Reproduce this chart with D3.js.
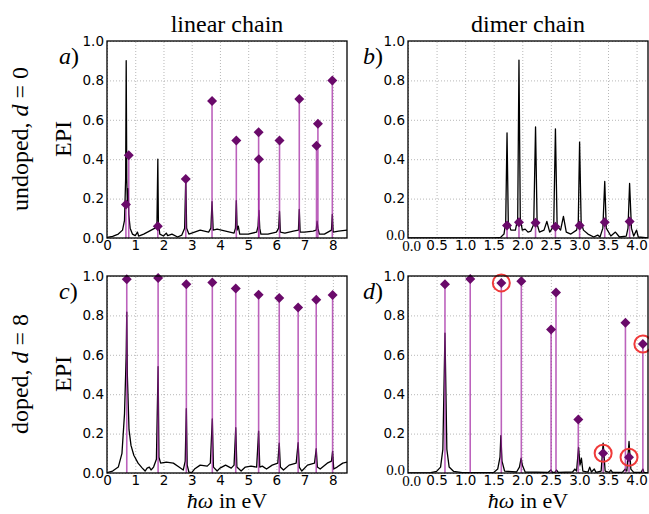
<!DOCTYPE html>
<html>
<head>
<meta charset="utf-8">
<script src="https://cdn.jsdelivr.net/npm/d3@7"></script>
<style>
  body { margin: 0; background: #fff; }
  svg { display: block; }
</style>
</head>
<body>
<svg id="chart" width="649" height="514"></svg>
<script>
// ---- data ----
// panel a: linear chain, undoped
var aStemX = [0.67, 0.77, 1.80, 2.79, 3.72, 4.58, 5.37, 5.38, 6.11, 6.81, 7.42, 7.47, 7.98];
var aStemY = [0.17, 0.42, 0.06, 0.30, 0.695, 0.495, 0.537, 0.40, 0.495, 0.706, 0.468, 0.58, 0.80];
var aCurve = [[0,0.003],[0.2,0.008],[0.4,0.02],[0.55,0.04],[0.62,0.09],[0.66,0.3],[0.68,0.90],[0.70,0.3],[0.72,0.18],[0.75,0.25],[0.77,0.12],[0.82,0.05],[0.9,0.02],[1.0,0.012],[1.08,0.03],[1.12,0.01],[1.3,0.02],[1.5,0.035],[1.7,0.05],[1.77,0.08],[1.80,0.40],[1.82,0.08],[1.87,0.02],[2.0,0.01],[2.1,0.025],[2.15,0.012],[2.3,0.02],[2.5,0.005],[2.65,0.015],[2.75,0.05],[2.79,0.31],[2.82,0.05],[2.9,0.02],[3.0,0.025],[3.3,0.04],[3.6,0.03],[3.68,0.05],[3.72,0.185],[3.76,0.04],[3.9,0.045],[4.2,0.035],[4.5,0.025],[4.55,0.05],[4.58,0.19],[4.61,0.04],[4.65,0.06],[4.7,0.02],[5.0,0.02],[5.3,0.03],[5.35,0.06],[5.38,0.14],[5.41,0.05],[5.45,0.02],[5.7,0.02],[6.0,0.03],[6.08,0.05],[6.11,0.135],[6.14,0.03],[6.3,0.025],[6.6,0.035],[6.78,0.04],[6.81,0.145],[6.84,0.03],[7.0,0.03],[7.3,0.035],[7.41,0.04],[7.44,0.085],[7.47,0.05],[7.52,0.02],[7.7,0.02],[7.95,0.04],[7.98,0.12],[8.01,0.03],[8.2,0.035],[8.5,0.04]];

// panel b: dimer chain, undoped
var bStemX = [1.733, 1.942, 2.232, 2.58, 3.003, 3.443, 3.878];
var bStemY = [0.064, 0.08, 0.077, 0.057, 0.064, 0.08, 0.084];
var bCurve = [[0,0],[1.5,0],[1.62,0.003],[1.68,0.02],[1.71,0.08],[1.733,0.534],[1.755,0.08],[1.8,0.04],[1.88,0.04],[1.92,0.1],[1.942,0.903],[1.965,0.1],[2.0,0.04],[2.05,0.045],[2.1,0.03],[2.15,0.035],[2.2,0.07],[2.232,0.564],[2.26,0.07],[2.3,0.03],[2.38,0.04],[2.43,0.084],[2.48,0.03],[2.55,0.06],[2.58,0.554],[2.61,0.06],[2.67,0.04],[2.72,0.11],[2.77,0.03],[2.85,0.02],[2.95,0.04],[2.98,0.08],[3.003,0.487],[3.03,0.08],[3.07,0.04],[3.15,0.02],[3.25,0.005],[3.32,0.015],[3.36,0.005],[3.41,0.05],[3.443,0.287],[3.47,0.05],[3.55,0.01],[3.63,0.03],[3.7,0.005],[3.82,0.01],[3.85,0.05],[3.878,0.277],[3.91,0.05],[3.95,0.01],[4.0,0.04],[4.03,0.005],[4.2,0]];

// panel c: linear chain, doped
var cStemX = [0.70, 1.81, 2.81, 3.73, 4.56, 5.37, 6.10, 6.77, 7.41, 7.99];
var cStemY = [0.983, 0.99, 0.958, 0.967, 0.937, 0.905, 0.888, 0.84, 0.88, 0.903];
var cCurve = [[0,0.002],[0.2,0.01],[0.4,0.03],[0.53,0.1],[0.62,0.3],[0.68,0.6],[0.70,0.817],[0.72,0.5],[0.78,0.22],[0.85,0.14],[0.95,0.09],[1.1,0.05],[1.25,0.025],[1.35,0.01],[1.42,0.025],[1.5,0.03],[1.56,0.015],[1.65,0.03],[1.75,0.07],[1.81,0.54],[1.84,0.08],[1.9,0.05],[2.1,0.055],[2.35,0.05],[2.55,0.03],[2.7,0.015],[2.77,0.06],[2.81,0.327],[2.84,0.04],[2.9,0.005],[3.0,0.002],[3.1,0.02],[3.3,0.04],[3.55,0.035],[3.66,0.05],[3.73,0.275],[3.77,0.03],[3.9,0.01],[4.0,0.025],[4.2,0.04],[4.4,0.025],[4.5,0.04],[4.56,0.23],[4.6,0.03],[4.75,0.01],[4.9,0.03],[5.1,0.035],[5.3,0.03],[5.37,0.213],[5.41,0.03],[5.5,0.035],[5.65,0.02],[5.85,0.04],[6.05,0.05],[6.10,0.152],[6.14,0.03],[6.25,0.015],[6.45,0.04],[6.7,0.05],[6.77,0.154],[6.81,0.03],[6.9,0.01],[7.1,0.04],[7.35,0.05],[7.41,0.123],[7.45,0.03],[7.55,0.02],[7.8,0.05],[7.95,0.06],[7.99,0.11],[8.03,0.02],[8.15,0.03],[8.35,0.05],[8.5,0.055]];

// panel d: dimer chain, doped
var dStemX = [0.647, 1.089, 1.633, 1.983, 2.504, 2.59, 2.98, 3.415, 3.805, 3.868, 4.11];
var dStemY = [0.958, 0.985, 0.965, 0.973, 0.729, 0.916, 0.271, 0.10, 0.763, 0.08, 0.655];
var dCircled = [1.633, 3.415, 3.868, 4.11];
var dCurve = [[0,0],[0.4,0.002],[0.5,0.008],[0.57,0.03],[0.61,0.12],[0.647,0.71],[0.68,0.12],[0.72,0.03],[0.8,0.008],[0.95,0.002],[1.5,0.003],[1.57,0.02],[1.61,0.08],[1.625,0.19],[1.645,0.06],[1.69,0.01],[1.9,0.005],[1.95,0.03],[1.98,0.075],[2.0,0.04],[2.05,0.005],[2.45,0.003],[2.5,0.015],[2.53,0.003],[2.57,0.003],[2.6,0.015],[2.63,0.003],[2.88,0.005],[2.92,0.02],[2.95,0.01],[2.985,0.13],[3.01,0.04],[3.035,0.075],[3.06,0.01],[3.15,0.005],[3.18,0.03],[3.21,0.005],[3.26,0.02],[3.29,0.003],[3.38,0.01],[3.415,0.152],[3.45,0.01],[3.52,0.003],[3.55,0.015],[3.58,0.003],[3.75,0.003],[3.8,0.02],[3.83,0.01],[3.868,0.16],[3.9,0.02],[3.95,0.003],[4.08,0.003],[4.11,0.02],[4.13,0.003],[4.2,0]];

// ticks
var yTicks = [0, 0.2, 0.4, 0.6, 0.8, 1.0];
var linTicks = [0, 1, 2, 3, 4, 5, 6, 7, 8];
var dimTicks = [0, 0.5, 1.0, 1.5, 2.0, 2.5, 3.0, 3.5, 4.0];

var svg = d3.select('#chart');
var serif = '"Liberation Serif", "DejaVu Serif", serif';
var sans = '"DejaVu Sans", sans-serif';

var panels = [
  {id: 'a', x0: 107, x1: 347, y0: 41, y1: 238, xmax: 8.5, xticks: linTicks, fmt: d3.format('d'),
   curve: aCurve, sx: aStemX, sy: aStemY, circ: [], cm: false},
  {id: 'b', x0: 408, x1: 648, y0: 41, y1: 238, xmax: 4.2, xticks: dimTicks, fmt: d3.format('.1f'),
   curve: bCurve, sx: bStemX, sy: bStemY, circ: [], cm: true},
  {id: 'c', x0: 107, x1: 347, y0: 276, y1: 473, xmax: 8.5, xticks: linTicks, fmt: d3.format('d'),
   curve: cCurve, sx: cStemX, sy: cStemY, circ: [], cm: false},
  {id: 'd', x0: 408, x1: 648, y0: 276, y1: 473, xmax: 4.2, xticks: dimTicks, fmt: d3.format('.1f'),
   curve: dCurve, sx: dStemX, sy: dStemY, circ: dCircled, cm: true}
];

panels.forEach(drawPanel);

function drawPanel(p) {
  var x = d3.scaleLinear().domain([0, p.xmax]).range([p.x0, p.x1]);
  var y = d3.scaleLinear().domain([0, 1]).range([p.y1, p.y0]);
  var g = svg.append('g');

  g.append('clipPath').attr('id', 'clip-' + p.id)
    .append('rect')
    .attr('x', p.x0).attr('y', p.y0 - 8)
    .attr('width', p.x1 - p.x0).attr('height', p.y1 - p.y0 + 8);

  // dotted grid
  var gx = g.append('g').attr('transform', 'translate(0,' + p.y1 + ')')
    .call(d3.axisBottom(x).tickValues(p.xticks).tickSize(-(p.y1 - p.y0)).tickFormat(''));
  var gy = g.append('g').attr('transform', 'translate(' + p.x0 + ',0)')
    .call(d3.axisLeft(y).tickValues(yTicks).tickSize(-(p.x1 - p.x0)).tickFormat(''));
  [gx, gy].forEach(function(s) {
    s.select('.domain').remove();
    s.selectAll('line').attr('stroke', '#9a9a9a').attr('stroke-width', 0.7)
      .attr('stroke-dasharray', '1,2');
  });

  var body = g.append('g').attr('clip-path', 'url(#clip-' + p.id + ')');

  // spectrum
  body.append('path')
    .datum(p.curve)
    .attr('fill', 'none')
    .attr('stroke', '#000')
    .attr('stroke-width', 1.3)
    .attr('stroke-linejoin', 'round')
    .attr('d', d3.line().x(function(d) { return x(d[0]); }).y(function(d) { return y(d[1]); }));

  var pts = p.sx.map(function(v, i) { return {x: v, y: p.sy[i]}; });

  // stems
  body.selectAll('.stem').data(pts).enter().append('line')
    .attr('class', 'stem')
    .attr('x1', function(d) { return x(d.x); })
    .attr('x2', function(d) { return x(d.x); })
    .attr('y1', y(0))
    .attr('y2', function(d) { return y(d.y); })
    .attr('stroke', '#a01fa0')
    .attr('stroke-opacity', 0.7)
    .attr('stroke-width', 1.6);

  // diamond markers
  body.selectAll('.mark').data(pts).enter().append('path')
    .attr('class', 'mark')
    .attr('transform', function(d) { return 'translate(' + x(d.x) + ',' + y(d.y) + ')'; })
    .attr('d', 'M0,-5L5,0L0,5L-5,0Z')
    .attr('fill', '#6a0a6a');

  // red circles
  g.selectAll('.circ').data(pts.filter(function(d) { return p.circ.indexOf(d.x) >= 0; }))
    .enter().append('circle')
    .attr('cx', function(d) { return x(d.x); })
    .attr('cy', function(d) { return y(d.y); })
    .attr('r', 8.5)
    .attr('fill', 'none')
    .attr('stroke', '#f03a3a')
    .attr('stroke-width', 2);

  // frame
  g.append('rect')
    .attr('x', p.x0).attr('y', p.y0)
    .attr('width', p.x1 - p.x0).attr('height', p.y1 - p.y0)
    .attr('fill', 'none').attr('stroke', '#000').attr('stroke-width', 1.3);

  // tick labels
  var ax = g.append('g').attr('transform', 'translate(0,' + p.y1 + ')')
    .call(d3.axisBottom(x).tickValues(p.xticks).tickSize(0).tickPadding(2).tickFormat(p.fmt));
  var ay = g.append('g').attr('transform', 'translate(' + p.x0 + ',0)')
    .call(d3.axisLeft(y).tickValues(yTicks).tickSize(0).tickPadding(3).tickFormat(d3.format('.1f')));
  [ax, ay].forEach(function(s) {
    s.select('.domain').remove();
    s.selectAll('text').attr('font-family', sans).attr('font-size', 13.5).attr('fill', '#000');
  });
  if (p.cm) {
    // the first labels come out in the serif math font in the original
    ax.selectAll('text').filter(function(d) { return d === 0; })
      .attr('font-family', serif).attr('font-size', 15).attr('dx', '3');
    ay.selectAll('text').filter(function(d) { return d === 0; })
      .attr('font-family', serif).attr('font-size', 15).attr('dy', '0.1em');
  }

  // panel letter
  var lt = g.append('text')
    .attr('x', p.x0 - (p.cm ? 45 : 48))
    .attr('y', p.y0 + 23)
    .attr('font-family', serif).attr('font-size', 24);
  lt.append('tspan').attr('font-style', 'italic').text(p.id);
  lt.append('tspan').text(')');
}

// column titles
svg.append('text').attr('x', 227).attr('y', 32).attr('text-anchor', 'middle')
  .attr('font-family', serif).attr('font-size', 24).text('linear chain');
svg.append('text').attr('x', 528).attr('y', 32).attr('text-anchor', 'middle')
  .attr('font-family', serif).attr('font-size', 24).text('dimer chain');

// row labels
function rowLabel(cy, word, val) {
  var t = svg.append('text')
    .attr('transform', 'translate(28,' + cy + ') rotate(-90)')
    .attr('text-anchor', 'middle')
    .attr('font-family', serif).attr('font-size', 24);
  t.append('tspan').text(word + ', ');
  t.append('tspan').attr('font-style', 'italic').text('d');
  t.append('tspan').text(' = ' + val);
  svg.append('text')
    .attr('transform', 'translate(71,' + cy + ') rotate(-90)')
    .attr('text-anchor', 'middle')
    .attr('font-family', serif).attr('font-size', 24).text('EPI');
}
rowLabel(139, 'undoped', '0');
rowLabel(374, 'doped', '8');

// x labels
[227, 528].forEach(function(cx) {
  var t = svg.append('text').attr('x', cx).attr('y', 508).attr('text-anchor', 'middle')
    .attr('font-family', serif).attr('font-size', 22);
  t.append('tspan').attr('font-style', 'italic').text('ħω');
  t.append('tspan').text(' in eV');
});
</script>
</body>
</html>
